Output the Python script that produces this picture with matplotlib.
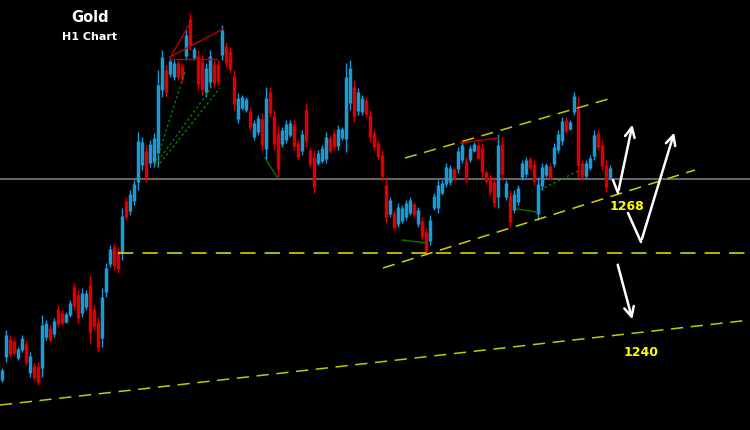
import matplotlib
matplotlib.use("Agg")
import matplotlib.pyplot as plt

# H1 candles, oldest first (price)
opens = [1229.0, 1233.6, 1237.3, 1236.9, 1233.4, 1235.1, 1236.3, 1230.4, 1231.9, 1231.9,
         1231.5, 1237.6, 1239.5, 1238.2, 1243.3, 1242.5, 1240.7, 1242.1, 1247.6, 1246.0,
         1242.5, 1243.6, 1248.0, 1243.2, 1240.6, 1237.4, 1246.6, 1252.3, 1255.6, 1254.8,
         1254.6, 1264.9, 1262.8, 1264.8, 1268.7, 1272.0, 1274.9, 1272.4, 1272.6, 1274.5,
         1287.0, 1291.0, 1290.2, 1289.6, 1292.4, 1291.8, 1293.9, 1301.3, 1293.4, 1293.8,
         1292.8, 1286.6, 1288.7, 1292.2, 1292.2, 1294.0, 1295.9, 1294.8, 1289.8, 1281.3,
         1283.4, 1283.0, 1282.9, 1277.6, 1278.6, 1281.3, 1275.2, 1286.7, 1281.8, 1278.4,
         1276.2, 1277.1, 1278.1, 1280.1, 1276.4, 1274.8, 1283.1, 1275.0, 1273.7, 1272.5,
         1272.9, 1273.3, 1277.5, 1278.4, 1275.8, 1277.4, 1277.3, 1284.5, 1287.7, 1282.8,
         1282.6, 1285.0, 1282.0, 1278.4, 1276.4, 1274.1, 1268.1, 1262.2, 1262.4, 1260.3,
         1260.9, 1261.6, 1262.5, 1264.2, 1260.2, 1260.9, 1258.6, 1256.9, 1263.5, 1263.4,
         1266.5, 1268.3, 1268.6, 1271.2, 1271.2, 1273.0, 1272.8, 1273.1, 1274.9, 1276.1,
         1275.4, 1270.6, 1269.4, 1268.7, 1265.6, 1276.3, 1265.6, 1265.9, 1263.1, 1264.6,
         1269.6, 1270.2, 1273.2, 1272.2, 1262.3, 1267.8, 1270.0, 1271.9, 1272.3, 1275.1,
         1276.8, 1281.1, 1279.3, 1282.7, 1283.2, 1272.4, 1269.9, 1271.5, 1273.9, 1278.4,
         1276.1, 1272.0, 1269.5]
closes = [1231.0, 1238.0, 1234.3, 1234.5, 1235.2, 1237.5, 1232.7, 1233.8, 1229.5, 1228.7,
          1240.1, 1240.4, 1237.1, 1240.8, 1240.3, 1240.5, 1242.3, 1244.5, 1243.8, 1241.4,
          1246.5, 1246.4, 1238.4, 1239.8, 1235.6, 1245.6, 1251.4, 1255.3, 1251.8, 1251.2,
          1261.8, 1261.7, 1266.2, 1268.2, 1276.9, 1276.6, 1269.7, 1276.2, 1277.4, 1288.1,
          1293.6, 1286.6, 1292.8, 1292.4, 1289.6, 1289.2, 1298.1, 1296.1, 1295.2, 1288.2,
          1287.2, 1291.4, 1293.9, 1288.4, 1288.8, 1299.0, 1292.4, 1291.2, 1284.2, 1285.5,
          1285.6, 1285.2, 1279.7, 1280.4, 1281.4, 1276.1, 1285.4, 1282.5, 1276.2, 1271.2,
          1279.0, 1280.3, 1280.5, 1275.9, 1273.6, 1278.2, 1276.9, 1272.2, 1267.7, 1274.5,
          1275.5, 1277.7, 1274.9, 1275.6, 1279.2, 1279.2, 1289.7, 1291.5, 1281.9, 1286.6,
          1285.4, 1282.2, 1277.6, 1275.6, 1273.6, 1269.9, 1261.7, 1265.0, 1259.6, 1263.7,
          1263.5, 1264.4, 1265.1, 1262.0, 1263.0, 1257.7, 1254.8, 1261.1, 1265.9, 1268.0,
          1268.5, 1271.7, 1271.4, 1269.4, 1274.8, 1276.0, 1269.2, 1275.5, 1276.3, 1273.5,
          1270.6, 1268.8, 1266.6, 1264.5, 1276.0, 1270.3, 1268.4, 1260.7, 1266.3, 1267.4,
          1272.4, 1273.0, 1271.4, 1268.8, 1268.3, 1271.6, 1272.0, 1269.5, 1275.7, 1278.3,
          1280.8, 1278.9, 1280.7, 1285.9, 1272.0, 1269.6, 1272.5, 1273.5, 1278.1, 1275.6,
          1271.9, 1267.6, 1271.5]
highs = [1231.4, 1239.0, 1238.0, 1237.4, 1235.6, 1238.0, 1237.0, 1234.6, 1232.4, 1232.6,
         1242.0, 1241.0, 1240.0, 1241.4, 1244.0, 1243.0, 1242.6, 1245.0, 1248.4, 1247.0,
         1247.4, 1247.0, 1250.0, 1244.0, 1241.6, 1247.4, 1252.4, 1256.0, 1256.4, 1255.6,
         1263.4, 1265.6, 1267.0, 1269.0, 1278.6, 1277.6, 1276.0, 1277.0, 1278.4, 1291.0,
         1295.0, 1292.0, 1293.4, 1293.0, 1293.0, 1292.4, 1299.0, 1302.4, 1295.6, 1295.0,
         1294.0, 1292.4, 1295.0, 1293.0, 1293.0, 1300.0, 1296.6, 1295.6, 1291.0, 1286.4,
         1286.0, 1285.6, 1283.6, 1281.0, 1282.0, 1282.4, 1287.6, 1287.6, 1283.0, 1280.0,
         1279.6, 1281.0, 1281.0, 1281.0, 1277.0, 1279.0, 1284.4, 1275.6, 1275.0, 1275.0,
         1276.0, 1278.6, 1278.0, 1279.0, 1280.0, 1279.6, 1292.4, 1293.0, 1289.0, 1287.4,
         1286.0, 1285.6, 1283.0, 1279.0, 1277.0, 1275.0, 1269.4, 1265.6, 1263.0, 1264.4,
         1264.0, 1265.0, 1265.6, 1264.6, 1263.6, 1261.6, 1259.4, 1262.0, 1266.4, 1269.0,
         1269.0, 1272.4, 1272.0, 1271.6, 1275.6, 1276.6, 1273.6, 1276.0, 1276.6, 1276.6,
         1276.4, 1271.0, 1270.0, 1269.6, 1278.2, 1277.6, 1269.0, 1267.0, 1267.0, 1268.0,
         1273.0, 1273.6, 1273.6, 1273.0, 1269.6, 1272.4, 1272.4, 1272.4, 1276.4, 1279.0,
         1281.6, 1281.6, 1281.0, 1286.6, 1285.6, 1273.0, 1273.0, 1274.0, 1279.0, 1279.0,
         1277.0, 1273.0, 1272.0]
lows = [1228.6, 1232.6, 1233.6, 1234.0, 1233.0, 1234.6, 1232.0, 1229.6, 1229.0, 1228.0,
        1229.6, 1237.0, 1236.6, 1237.6, 1239.6, 1240.0, 1240.4, 1241.6, 1243.0, 1240.4,
        1241.6, 1243.0, 1236.4, 1239.0, 1234.6, 1235.6, 1245.6, 1251.6, 1251.0, 1250.4,
        1253.0, 1261.0, 1262.0, 1264.0, 1267.0, 1271.0, 1268.6, 1271.6, 1271.6, 1271.6,
        1285.6, 1285.6, 1289.6, 1289.0, 1289.0, 1288.6, 1293.0, 1295.0, 1293.0, 1287.0,
        1286.0, 1285.6, 1287.6, 1287.6, 1288.0, 1293.0, 1291.6, 1290.4, 1283.0, 1280.4,
        1283.0, 1282.6, 1279.0, 1277.0, 1278.0, 1275.0, 1273.0, 1281.6, 1275.0, 1269.6,
        1275.6, 1276.4, 1277.6, 1275.0, 1273.0, 1274.0, 1275.6, 1271.6, 1266.4, 1272.0,
        1272.4, 1272.4, 1274.4, 1275.0, 1275.0, 1277.0, 1274.6, 1283.0, 1280.6, 1282.0,
        1282.0, 1281.6, 1276.6, 1275.0, 1273.0, 1269.0, 1260.4, 1261.6, 1259.0, 1259.6,
        1260.4, 1261.0, 1262.0, 1261.6, 1259.6, 1257.0, 1254.0, 1256.0, 1263.0, 1262.4,
        1266.0, 1267.6, 1268.0, 1269.0, 1270.4, 1272.4, 1268.4, 1272.6, 1274.6, 1273.0,
        1269.6, 1268.4, 1266.0, 1263.6, 1263.4, 1269.0, 1265.0, 1259.6, 1262.4, 1264.0,
        1269.0, 1269.6, 1271.0, 1268.0, 1261.0, 1267.0, 1269.6, 1269.0, 1271.6, 1274.4,
        1276.0, 1278.4, 1279.0, 1282.0, 1269.6, 1269.0, 1269.4, 1271.0, 1273.0, 1275.0,
        1271.0, 1266.6, 1269.0]

# analysis drawn on top: (bar index, price) pairs
current_price = 1269.2
support_price = 1254.4
support_start = 29
long_trend = [(-0.5, 1224.0), (187.0, 1241.0)]
channel_upper = [(100.75, 1273.4), (152.5, 1285.4)]
channel_lower = [(95.25, 1251.4), (173.25, 1271.0)]
red_lines = [
    [(42, 1293.4), (47, 1300.4)],
    [(42, 1293.6), (55.25, 1299.2)],
    [(42, 1293.2), (53.75, 1293.2)],
    [(114.5, 1276.4), (124, 1277.4)],
]
green_dotted = [
    [(38.25, 1272.0), (45.75, 1290.6)],
    [(38.25, 1272.0), (52.5, 1287.6)],
    [(38.75, 1271.6), (54.5, 1287.4)],
    [(134.5, 1267.0), (144.5, 1271.0)],
]
green_solid = [
    [(65.75, 1273.4), (68.75, 1269.6)],
    [(100, 1257.0), (106.25, 1256.4)],
    [(128.75, 1263.2), (133.75, 1262.6)],
]
arrow_paths = [
    [(152.75, 1269.0), (154.0, 1266.4), (157.75, 1280.6)],
    [(156.5, 1262.4), (159.75, 1256.6), (168.25, 1279.0)],
    [(153.75, 1252.6), (157.75, 1240.6)],
]
levels = [("1268", 156.25, 1263.6), ("1240", 159.75, 1234.4)]

UP = "#1a9ad6"
DOWN = "#d80000"
YEL = "#e6e600"

fig = plt.figure(figsize=(7.5, 4.3), dpi=100, facecolor="black")
ax = fig.add_axes([0, 0, 1, 1])
ax.set_facecolor("black")
ax.set_xlim(-0.5, 187)
ax.set_ylim(1219, 1305)
ax.axis("off")

ax.axhline(current_price, color="#707070", lw=1.3, zorder=1)

# candles
for i in range(len(closes)):
    c = UP if closes[i] >= opens[i] else DOWN
    ax.vlines(i, lows[i], highs[i], color=c, lw=1.0, zorder=2)
    ax.vlines(i, min(opens[i], closes[i]), max(opens[i], closes[i]), color=c, lw=2.5, zorder=2)

# trend lines
ax.hlines(support_price, support_start, 187, color=YEL, lw=1.1, linestyles=(0, (10, 6)), zorder=3)
for pts, col in [(long_trend, "#c8c800"), (channel_upper, "#c8c800"), (channel_lower, "#d0d000")]:
    ax.plot([p[0] for p in pts], [p[1] for p in pts], color=col, lw=1.1, dashes=(8, 5), zorder=3)

for seg in red_lines:
    ax.plot([p[0] for p in seg], [p[1] for p in seg], color="#c00000", lw=1.0, zorder=4)
for seg in green_dotted:
    ax.plot([p[0] for p in seg], [p[1] for p in seg], color="#008a00", lw=0.9, ls=(0, (2, 2)), zorder=4)
for seg in green_solid:
    ax.plot([p[0] for p in seg], [p[1] for p in seg], color="#007a00", lw=1.0, zorder=4)

# scenario arrows
for path in arrow_paths:
    if len(path) > 2:
        ax.plot([p[0] for p in path[:-1]], [p[1] for p in path[:-1]], color="white", lw=1.8,
                solid_capstyle="round", zorder=5)
    ax.annotate("", xy=path[-1], xytext=path[-2],
                arrowprops=dict(arrowstyle="->,head_length=0.7,head_width=0.35", color="white", lw=1.8),
                zorder=5)

for txt, x, y in levels:
    ax.text(x, y, txt, color="#ffff00", fontsize=9, fontweight="bold", ha="center", va="center")

fig.text(90 / 750, 1 - 17 / 430, "Gold", color="white", fontsize=10.5, fontweight="bold",
         ha="center", va="center")
fig.text(90 / 750, 1 - 37 / 430, "H1 Chart", color="white", fontsize=8, fontweight="bold",
         ha="center", va="center")

fig.savefig("out.png", dpi=100, facecolor="black")
